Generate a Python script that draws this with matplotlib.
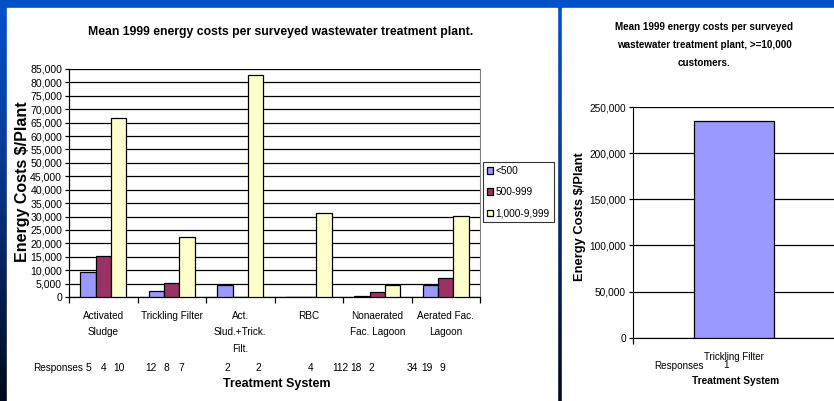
import numpy as np
import matplotlib
matplotlib.use("Agg")
import matplotlib.pyplot as plt
from matplotlib.patches import Rectangle
from matplotlib.colors import LinearSegmentedColormap
from matplotlib.ticker import FuncFormatter, FixedLocator

# mean 1999 energy cost per plant, by treatment system and plant size
systems = ["Activated\nSludge", "Trickling Filter", "Act.\nSlud.+Trick.\nFilt.",
           "RBC", "Nonaerated\nFac. Lagoon", "Aerated Fac.\nLagoon"]
sizes = ["<500", "500-999", "1,000-9,999"]
cost_lt500 = [9300, 2100, 4600, 0, 500, 4300]
cost_500_999 = [15300, 5400, 0, 0, 1900, 6900]
cost_1000_9999 = [66600, 22400, 82800, 31300, 4500, 30100]
resp_lt500 = ["5", "12", "2", "", "112", "34"]
resp_500_999 = ["4", "8", "", "", "18", "19"]
resp_1000_9999 = ["10", "7", "2", "4", "2", "9"]

# large plants (>=10,000 customers)
big_systems = ["Trickling Filter"]
big_cost = [235000]
big_resp = ["1"]

colors = ["#9999FF", "#993366", "#FFFFCC"]
W, H = 834, 401
FONT = ["Liberation Sans", "DejaVu Sans"]


def fx(x):
    return x / W


def fy(y):
    return 1 - y / H


fig = plt.figure(figsize=(W / 100, H / 100), dpi=100)

# slide background: blue gradient with two white panels
bg = fig.add_axes([0, 0, 1, 1], zorder=-10)
bg.set_xlim(0, W)
bg.set_ylim(H, 0)
bg.axis("off")
cmap = LinearSegmentedColormap.from_list(
    "slide", ["#0052cc", "#0a3f9e", "#06225e", "#000a1c"])
grad = np.linspace(0, 1, 256).reshape(-1, 1)
bg.imshow(grad, cmap=cmap, extent=[0, W, H, 0], aspect="auto")
bg.add_patch(Rectangle((0, 0), W, 8, color="#0050c8"))
bg.add_patch(Rectangle((7, 8), 550, H - 8, color="white"))
bg.add_patch(Rectangle((562, 8), W - 562, H - 8, color="white"))

# ---- left chart ----
L, R, T, B = 69, 480, 69, 297
ax = fig.add_axes([fx(L), fy(B), fx(R - L), (B - T) / H])
x = np.arange(len(systems))
bw = 1 / 4.5
series = [cost_lt500, cost_500_999, cost_1000_9999]
for i, (vals, c, lab) in enumerate(zip(series, colors, sizes)):
    ax.bar(x + (i - 1) * bw, vals, bw, color=c, edgecolor="black",
           linewidth=0.9, label=lab, zorder=3)
ax.set_xlim(-0.5, len(systems) - 0.5)
ax.set_ylim(0, 85000)
ax.set_yticks(np.arange(0, 85001, 5000))
ax.yaxis.set_major_formatter(FuncFormatter(lambda v, p: f"{int(v):,}"))
ax.grid(axis="y", color="black", linewidth=0.9, zorder=0)
ax.set_xticks(np.arange(-0.5, len(systems)), labels=[])
ax.xaxis.set_minor_locator(FixedLocator(x))
ax.set_xticklabels(systems, minor=True, fontfamily=FONT, fontsize=7.2,
                   linespacing=1.8)
ax.tick_params(axis="x", which="minor", length=0, pad=10)
ax.tick_params(axis="x", which="major", length=4, width=0.9, direction="out")
ax.tick_params(axis="y", length=3, width=0.9, pad=2, labelsize=7.6)
for t in ax.get_yticklabels():
    t.set_fontfamily(FONT)
ax.spines["right"].set_color("#808080")
ax.spines["top"].set_visible(False)
for s in ("left", "bottom"):
    ax.spines[s].set_linewidth(0.9)

leg = ax.legend(loc="upper left", bbox_to_anchor=(fx(483), fy(162)),
                bbox_transform=fig.transFigure, frameon=True, fancybox=False,
                handlelength=0.6, handleheight=0.6, handletextpad=0.25,
                labelspacing=1.1, borderpad=0.4, borderaxespad=0,
                prop={"family": FONT, "size": 7.3})
leg.get_frame().set_edgecolor("black")
leg.get_frame().set_linewidth(0.8)

fig.text(fx(281), fy(32), "Mean 1999 energy costs per surveyed wastewater treatment plant.",
         ha="center", va="center", fontfamily=FONT, fontweight="bold", fontsize=8.8)
fig.text(fx(23), fy(182), "Energy Costs $/Plant", rotation=90, ha="center",
         va="center", fontfamily=FONT, fontweight="bold", fontsize=11.5)
fig.text(fx(277), fy(384), "Treatment System", ha="center", va="center",
         fontfamily=FONT, fontweight="bold", fontsize=9)

# response counts under each bar
fig.text(fx(58), fy(368), "Responses", ha="center", va="center",
         fontfamily=FONT, fontsize=7.2)
resp_shift = [0.0, -0.08, 0.04, -0.19, -0.31, -0.27]
row = ax.get_xaxis_transform()
for i, resp in enumerate([resp_lt500, resp_500_999, resp_1000_9999]):
    for j, r in enumerate(resp):
        if r:
            ax.text(x[j] + (i - 1) * bw + resp_shift[j], -0.312, r, transform=row,
                    ha="center", va="center", fontfamily=FONT, fontsize=7.4,
                    clip_on=False)

# ---- right chart ----
L2, R2, T2, B2 = 633, 835, 107, 337.7
ax2 = fig.add_axes([fx(L2), fy(B2), fx(R2 - L2), (B2 - T2) / H])
x2 = np.arange(len(big_systems))
ax2.bar(x2, big_cost, 0.4, color=colors[0], edgecolor="black", linewidth=0.9,
        zorder=3)
ax2.set_xlim(-0.5, 0.5)
ax2.set_ylim(0, 250000)
ax2.set_yticks(np.arange(0, 250001, 50000))
ax2.yaxis.set_major_formatter(FuncFormatter(lambda v, p: f"{int(v):,}"))
ax2.grid(axis="y", color="black", linewidth=0.9, zorder=0)
ax2.set_xticks([-0.5, 0.5], labels=[])
ax2.tick_params(axis="x", length=4, width=0.9)
ax2.tick_params(axis="y", length=3, width=0.9, pad=2, labelsize=7.3)
for t in ax2.get_yticklabels():
    t.set_fontfamily(FONT)
ax2.spines["top"].set_visible(False)
ax2.spines["right"].set_visible(False)

fig.text(fx(704), fy(45),
         "Mean 1999 energy costs per surveyed\nwastewater treatment plant, >=10,000\ncustomers.",
         ha="center", va="center", fontfamily=FONT, fontweight="bold",
         fontsize=7.1, linespacing=2.0)
fig.text(fx(580), fy(217), "Energy Costs $/Plant", rotation=90, ha="center",
         va="center", fontfamily=FONT, fontweight="bold", fontsize=9.3)
ax2.text(x2[0], -0.085, big_systems[0], transform=ax2.get_xaxis_transform(),
         ha="center", va="center", fontfamily=FONT, fontsize=7, clip_on=False)
fig.text(fx(679), fy(366), "Responses", ha="center", va="center",
         fontfamily=FONT, fontsize=7.1)
ax2.text(x2[0] - 0.04, -0.12, big_resp[0], transform=ax2.get_xaxis_transform(),
         ha="center", va="center", fontfamily=FONT, fontsize=7.1, clip_on=False)
fig.text(fx(736), fy(381), "Treatment System", ha="center", va="center",
         fontfamily=FONT, fontweight="bold", fontsize=7.3)

fig.savefig("out.png", dpi=100)
